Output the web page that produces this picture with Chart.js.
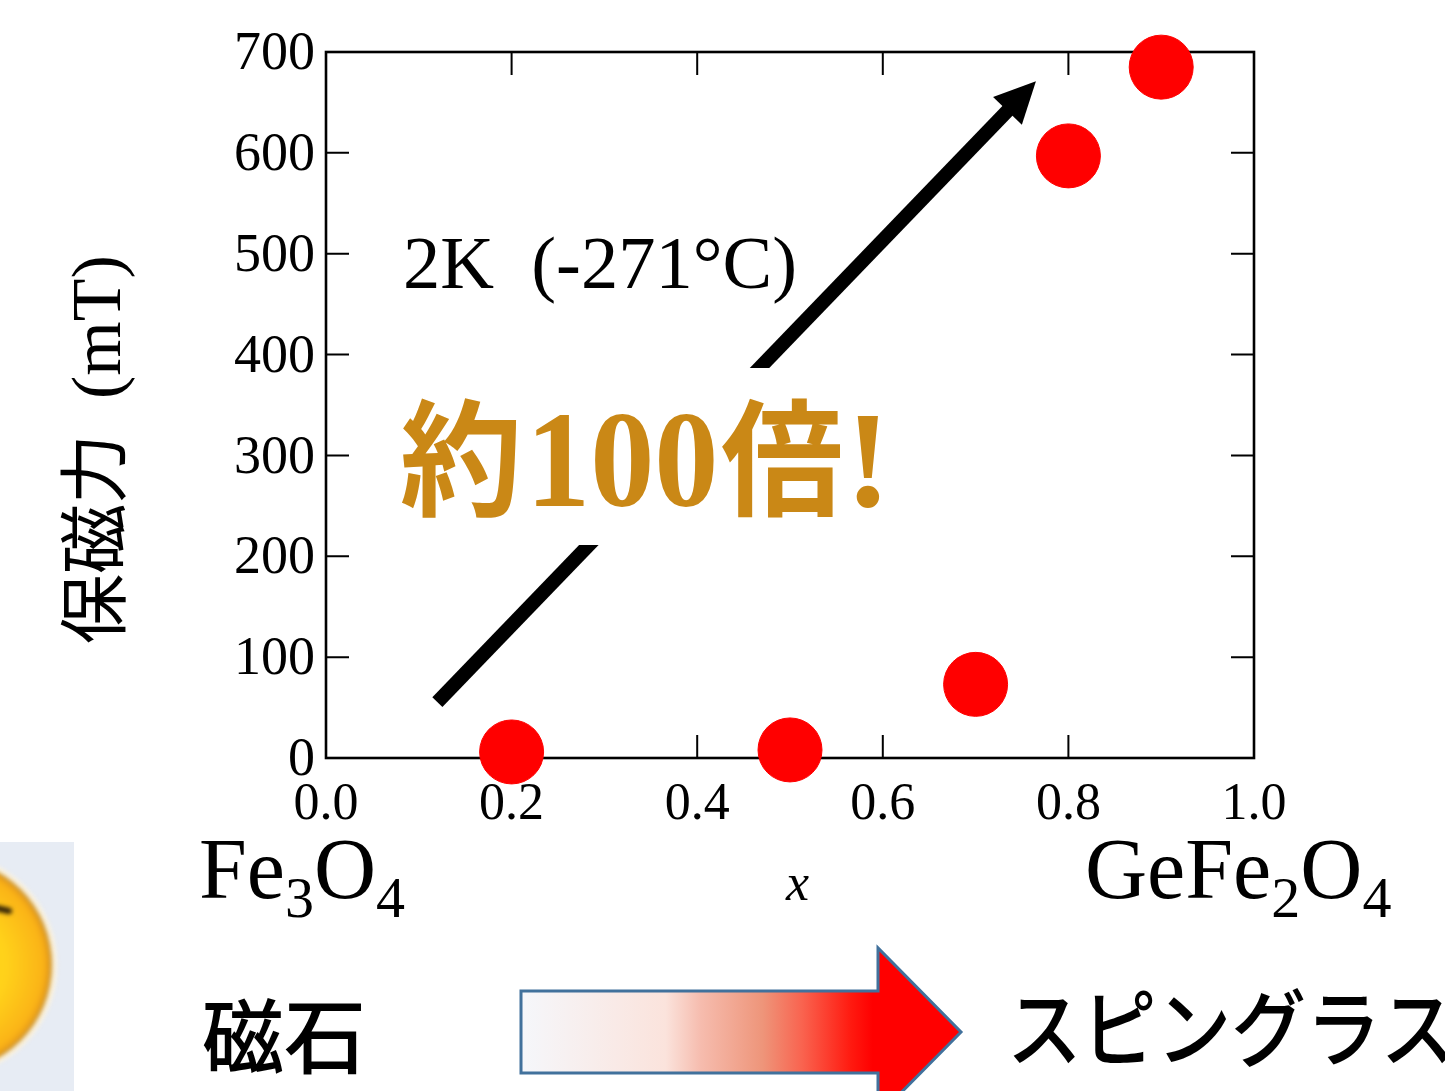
<!DOCTYPE html>
<html lang="ja">
<head>
<meta charset="utf-8">
<title>保磁力</title>
<script src="https://cdn.jsdelivr.net/npm/chart.js@4"></script>
<style>
  html, body { margin: 0; padding: 0; background: #ffffff; overflow: hidden; }
  canvas { display: block; }
</style>
</head>
<body>
<canvas id="coercivityChart" width="1445" height="1091"></canvas>
<script>
  const compositionX = [0.2, 0.5, 0.7, 0.8, 0.9];
  const coercivityMT = [6, 8, 73, 597, 685];

  // trend arrow ends, in data units
  const arrowX = [0.12, 0.765];
  const arrowY = [55.5, 671];

  const SERIF = '"Liberation Serif", "Noto Sans CJK JP"';
  const SANS = '"Noto Sans CJK JP", "Noto Sans"';
  const TICK_LENGTH = 23;
  const GOLD = "#ca8816";

  function drawText(ctx, text, x, y, font, color, scaleX) {
    ctx.save();
    ctx.translate(x, y);
    ctx.scale(scaleX || 1, 1);
    ctx.font = font;
    ctx.fillStyle = color || "#000000";
    ctx.textAlign = "left";
    ctx.textBaseline = "alphabetic";
    ctx.fillText(text, 0, 0);
    ctx.restore();
  }

  function drawFormula(ctx, parts, x) {
    let cursor = x;
    parts.forEach(part => {
      const sub = part.length === 1 && part >= "0" && part <= "9";
      const font = `${sub ? 58 : 86}px ${SERIF}`;
      drawText(ctx, part, cursor, sub ? 917 : 898, font);
      ctx.font = font;
      cursor += ctx.measureText(part).width;
    });
  }

  function drawFrame(ctx, chart) {
    const { left, right, top, bottom } = chart.chartArea;
    ctx.save();
    ctx.strokeStyle = "#000000";
    ctx.lineWidth = 2;
    chart.scales.x.ticks.forEach((_, index) => {
      const px = chart.scales.x.getPixelForTick(index);
      ctx.beginPath();
      ctx.moveTo(px, top);
      ctx.lineTo(px, top + TICK_LENGTH);
      ctx.moveTo(px, bottom);
      ctx.lineTo(px, bottom - TICK_LENGTH);
      ctx.stroke();
    });
    chart.scales.y.ticks.forEach((_, index) => {
      const py = chart.scales.y.getPixelForTick(index);
      ctx.beginPath();
      ctx.moveTo(left, py);
      ctx.lineTo(left + TICK_LENGTH, py);
      ctx.moveTo(right, py);
      ctx.lineTo(right - TICK_LENGTH, py);
      ctx.stroke();
    });
    ctx.lineWidth = 2.6;
    ctx.strokeRect(left, top, right - left, bottom - top);
    ctx.restore();
  }

  function drawTrendArrow(ctx, chart) {
    const x0 = chart.scales.x.getPixelForValue(arrowX[0]);
    const y0 = chart.scales.y.getPixelForValue(arrowY[0]);
    const x1 = chart.scales.x.getPixelForValue(arrowX[1]);
    const y1 = chart.scales.y.getPixelForValue(arrowY[1]);
    const angle = Math.atan2(y1 - y0, x1 - x0);
    const length = Math.hypot(x1 - x0, y1 - y0);

    ctx.save();
    ctx.translate(x0, y0);
    ctx.rotate(angle);
    ctx.fillStyle = "#000000";
    ctx.fillRect(0, -7, length - 40, 14);
    ctx.beginPath();
    ctx.moveTo(length, 0);
    ctx.lineTo(length - 41, -20);
    ctx.lineTo(length - 41, 20);
    ctx.closePath();
    ctx.fill();
    ctx.restore();

    // the label sits on a white box that cuts the arrow
    ctx.fillStyle = "#ffffff";
    ctx.fillRect(400, 368, 500, 177);
  }

  function drawSmiley(ctx) {
    ctx.save();
    ctx.beginPath();
    ctx.rect(0, 842, 74, 249);
    ctx.clip();
    ctx.fillStyle = "#e7ecf4";
    ctx.fillRect(0, 842, 74, 249);
    ctx.filter = "blur(2px)";

    ctx.fillStyle = "#fdf3dc";
    ctx.beginPath();
    ctx.arc(-55, 965, 112, 0, Math.PI * 2);
    ctx.fill();

    const face = ctx.createRadialGradient(-55, 965, 60, -55, 965, 107);
    face.addColorStop(0, "#ffd21a");
    face.addColorStop(0.8, "#fbb417");
    face.addColorStop(0.93, "#eb9f18");
    face.addColorStop(1, "#b0832c");
    ctx.fillStyle = face;
    ctx.beginPath();
    ctx.arc(-55, 965, 107, 0, Math.PI * 2);
    ctx.fill();

    ctx.strokeStyle = "#2e2008";
    ctx.lineWidth = 6;
    ctx.lineCap = "round";
    ctx.beginPath();
    ctx.moveTo(-4, 908);
    ctx.lineTo(9, 911);
    ctx.stroke();
    ctx.restore();
  }

  function drawGradientArrow(ctx) {
    const fill = ctx.createLinearGradient(520, 0, 961, 0);
    fill.addColorStop(0, "#f5f7fb");
    fill.addColorStop(0.33, "#fbe3dc");
    fill.addColorStop(0.41, "#f6bcae");
    fill.addColorStop(0.55, "#ee957a");
    fill.addColorStop(0.64, "#f9634f");
    fill.addColorStop(0.75, "#ff1a10");
    fill.addColorStop(0.8, "#ff0000");
    fill.addColorStop(1, "#ff0000");

    ctx.save();
    ctx.beginPath();
    ctx.moveTo(521, 991);
    ctx.lineTo(878, 991);
    ctx.lineTo(878, 948);
    ctx.lineTo(961, 1032);
    ctx.lineTo(878, 1116);
    ctx.lineTo(878, 1073);
    ctx.lineTo(521, 1073);
    ctx.closePath();
    ctx.fillStyle = fill;
    ctx.fill();
    ctx.strokeStyle = "#41719c";
    ctx.lineWidth = 3;
    ctx.stroke();
    ctx.restore();
  }

  const annotationPlugin = {
    id: "annotations",
    beforeDatasetsDraw(chart) {
      const ctx = chart.ctx;
      drawFrame(ctx, chart);
      drawTrendArrow(ctx, chart);
    },
    afterDatasetsDraw(chart) {
      const ctx = chart.ctx;

      drawText(ctx, "2K  (-271°C)", 403, 288, `74.5px ${SERIF}`);

      drawText(ctx, "約", 400, 506, `bold 126px ${SANS}`, GOLD, 0.97);
      drawText(ctx, "100", 526, 506, `bold 138px ${SERIF}`, GOLD, 0.93);
      drawText(ctx, "倍", 721, 506, `bold 126px ${SANS}`, GOLD, 0.97);
      drawText(ctx, "!", 845, 506, `bold 138px ${SERIF}`, GOLD);

      // rotated axis title
      ctx.save();
      ctx.translate(120, 644);
      ctx.rotate(-Math.PI / 2);
      drawText(ctx, "保磁力  (mT)", 0, 0, `70px ${SERIF}`);
      ctx.restore();

      drawText(ctx, "x", 786, 900, `italic 52px ${SERIF}`);
      drawFormula(ctx, ["Fe", "3", "O", "4"], 199);
      drawFormula(ctx, ["GeFe", "2", "O", "4"], 1085);

      drawSmiley(ctx);
      drawText(ctx, "磁石", 202, 1067, `500 82px ${SANS}`);
      drawGradientArrow(ctx);
      drawText(ctx, "スピングラス", 1007, 1060, `500 84px ${SANS}`, "#000000", 0.89);
    }
  };

  new Chart(document.getElementById("coercivityChart").getContext("2d"), {
    type: "scatter",
    data: {
      datasets: [
        {
          label: "保磁力",
          data: compositionX.map((x, index) => ({ x, y: coercivityMT[index] })),
          backgroundColor: "#ff0000",
          borderColor: "#ff0000",
          pointRadius: 32,
          pointHoverRadius: 32,
          clip: false
        }
      ]
    },
    options: {
      responsive: false,
      animation: false,
      layout: {
        padding: { top: 52, right: 191, bottom: 0, left: 0 }
      },
      plugins: {
        legend: { display: false },
        tooltip: { enabled: false }
      },
      scales: {
        x: {
          type: "linear",
          min: 0,
          max: 1,
          afterFit(scale) {
            scale.height = 333;
          },
          grid: { display: false },
          border: { display: false },
          ticks: {
            stepSize: 0.2,
            color: "#000000",
            padding: 8,
            maxRotation: 0,
            font: { family: SERIF, size: 52 },
            callback: value => Number(value).toFixed(1)
          }
        },
        y: {
          type: "linear",
          min: 0,
          max: 700,
          afterFit(scale) {
            scale.width = 326;
          },
          grid: { display: false },
          border: { display: false },
          ticks: {
            stepSize: 100,
            color: "#000000",
            padding: 3,
            labelOffset: 3,
            font: { family: SERIF, size: 54 }
          }
        }
      }
    },
    plugins: [annotationPlugin]
  });
</script>
</body>
</html>
